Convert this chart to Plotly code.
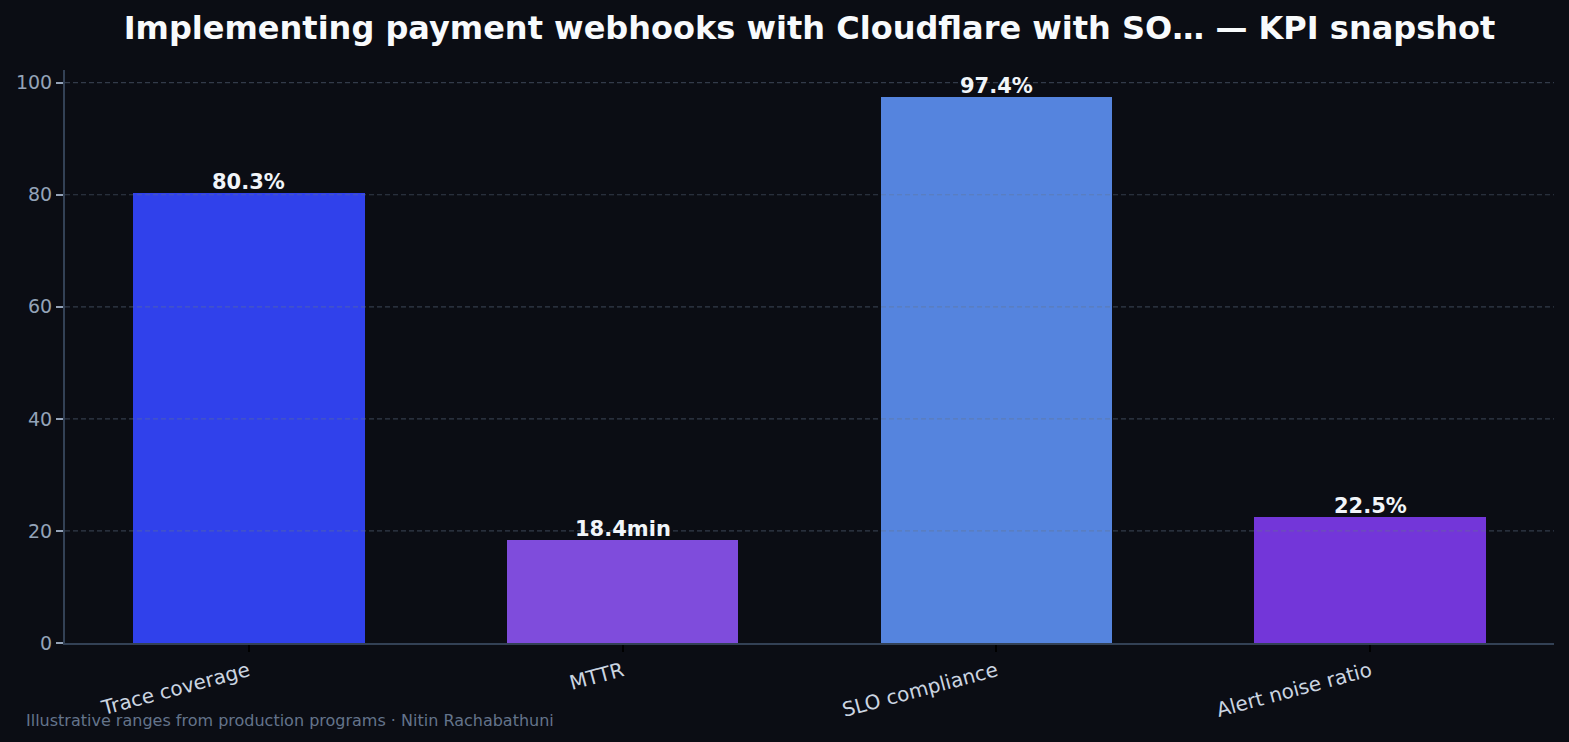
import plotly.graph_objects as go

categories = ["Trace coverage", "MTTR", "SLO compliance", "Alert noise ratio"]
values = [80.3, 18.4, 97.4, 22.5]
units = ["%", "min", "%", "%"]
bar_colors = ["#3041EB", "#7F4CDC", "#5584DE", "#7336D9"]
y_ticks = [0, 20, 40, 60, 80, 100]
title_text = "Implementing payment webhooks with Cloudflare with SO\u2026 \u2014 KPI snapshot"
footer_text = "Illustrative ranges from production programs \u00b7 Nitin Rachabathuni"

BG = "#0b0d14"
FONT = "DejaVu Sans"

fig = go.Figure()
fig.add_trace(go.Bar(
    x=list(range(len(categories))),
    y=values,
    width=0.62,
    marker=dict(color=bar_colors, line=dict(width=0)),
    hoverinfo="skip",
))

# value labels
for i, (v, u) in enumerate(zip(values, units)):
    fig.add_annotation(
        x=i, y=v, text=f"<b>{v:.1f}{u}</b>", showarrow=False,
        yanchor="bottom", yshift=-3,
        font=dict(family=FONT, size=21, color="#f1f5f9"),
    )

# dashed gridlines drawn above bars
for t in y_ticks[1:]:
    fig.add_shape(
        type="line", xref="paper", x0=0, x1=1, yref="y", y0=t, y1=t,
        line=dict(color="rgba(100,116,139,0.45)", width=1.2, dash="5px,3px"),
        layer="above",
    )

fig.add_annotation(
    xref="paper", yref="paper",
    x=(24 - 65) / 1489, y=(643 - 720) / 573,
    xanchor="left", yanchor="middle", showarrow=False,
    text=footer_text,
    font=dict(family=FONT, size=16, color="#64748b"),
)

fig.update_layout(
    width=1569, height=742,
    paper_bgcolor=BG, plot_bgcolor=BG,
    margin=dict(l=65, r=15, t=70, b=99),
    showlegend=False,
    bargap=0,
    title=dict(
        text=f"<b>{title_text}</b>",
        x=0.5, xref="paper", xanchor="center",
        y=1 - 28 / 742, yref="container", yanchor="middle",
        font=dict(family=FONT, size=32, color="#f8fafc"),
    ),
    xaxis=dict(
        range=[-0.491, 3.491],
        tickmode="array",
        tickvals=list(range(len(categories))),
        ticktext=categories,
        tickangle=-15,
        ticks="outside", ticklen=7, tickwidth=1.5, tickcolor="#000000",
        tickfont=dict(family=FONT, size=20, color="#cbd5e1"),
        showgrid=False, zeroline=False,
        showline=True, linecolor="#334155", linewidth=2,
    ),
    yaxis=dict(
        range=[0, 102.27],
        tickmode="array", tickvals=y_ticks,
        ticks="outside", ticklen=7, tickwidth=1.5, tickcolor="#94a3b8",
        tickfont=dict(family=FONT, size=19, color="#94a3b8"),
        showgrid=False, zeroline=False,
        showline=True, linecolor="#334155", linewidth=2,
    ),
)

fig.write_html("out.html")
